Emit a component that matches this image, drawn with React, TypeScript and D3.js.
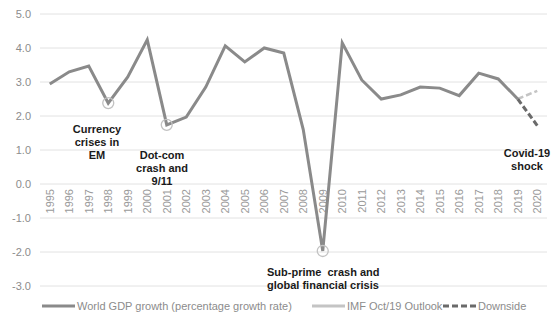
import React from 'react';
import * as d3 from 'd3';

const years = d3.range(1995, 2021).map(String);
const gdpGrowth = [2.94, 3.3, 3.47, 2.38, 3.15, 4.24, 1.74, 1.97, 2.85, 4.06, 3.59, 4.0, 3.85, 1.6, -1.97, 4.15, 3.06, 2.5, 2.62, 2.85, 2.82, 2.6, 3.26, 3.09, 2.5];
const imfOutlook = [{ year: '2019', value: 2.5 }, { year: '2020', value: 2.74 }];
const downside = [{ year: '2019', value: 2.5 }, { year: '2020', value: 1.72 }];
const yTicks = [5, 4, 3, 2, 1, 0, -1, -2, -3];
const highlighted = ['1998', '2001', '2009'];

const annotations = [
  { lines: ['Currency', 'crises in', 'EM'], x: 97, y: 133, anchor: 'middle' },
  { lines: ['Dot-com', 'crash and', '9/11'], x: 162, y: 159, anchor: 'middle' },
  { lines: ['Sub-prime  crash and', 'global financial crisis'], x: 267, y: 276, anchor: 'start' },
  { lines: ['Covid-19', 'shock'], x: 527, y: 157, anchor: 'middle' },
];

const legendItems = [
  { label: 'World GDP growth (percentage growth rate)', color: '#8a8a8a', dash: undefined, x1: 42 },
  { label: 'IMF Oct/19 Outlook', color: '#c4c4c4', dash: undefined, x1: 312 },
  { label: 'Downside', color: '#6a6a6a', dash: '6,3', x1: 443 },
];

const App = () => {
  const width = 558, height = 315;
  const left = 40, right = 547;

  const x = d3.scaleBand().domain(years).range([left, right]);
  const y = d3.scaleLinear().domain([-3, 5]).range([286, 14]);
  const cx = (yr: string) => (x(yr) as number) + x.bandwidth() / 2;

  const main = gdpGrowth.map((v, i) => ({ year: years[i], value: v }));
  const line = d3.line<{ year: string; value: number }>().x(d => cx(d.year)).y(d => y(d.value));

  const font = 'Arial, "Liberation Sans", sans-serif';

  return (
    <svg width={width} height={height} style={{ position: 'absolute', left: 0, top: 0, background: '#fff' }}>
      <g fontFamily={font}>
        {yTicks.map(t => (
          <g key={t}>
            <line x1={left} x2={right} y1={y(t)} y2={y(t)} stroke="#e2e2e2" strokeWidth={1} />
            <text x={31} y={y(t)} dy="0.35em" textAnchor="end" fontSize={11} fill="#8c8c8c">{t.toFixed(1)}</text>
          </g>
        ))}
        {years.map(yr => (
          <text key={yr} transform={`translate(${cx(yr) + 4},189) rotate(-90)`} textAnchor="end" fontSize={11} fill="#9a9a9a">{yr}</text>
        ))}
        <path d={line(imfOutlook) || ''} fill="none" stroke="#c4c4c4" strokeWidth={2.5} strokeDasharray="6,3" />
        <path d={line(downside) || ''} fill="none" stroke="#6a6a6a" strokeWidth={3} strokeDasharray="6,3" />
        <path d={line(main) || ''} fill="none" stroke="#8a8a8a" strokeWidth={3} strokeLinejoin="miter" />
        {highlighted.map(yr => {
          const v = gdpGrowth[years.indexOf(yr)];
          return <circle key={yr} cx={cx(yr)} cy={y(v)} r={5.5} fill="none" stroke="#c2c2c2" strokeWidth={1.3} />;
        })}
        {annotations.map((a, i) => (
          <text key={i} x={a.x} y={a.y} textAnchor={a.anchor as any} fontSize={11} fontWeight="bold" fill="#1a1a1a" style={{ whiteSpace: 'pre' }}>
            {a.lines.map((l, j) => (
              <tspan key={j} x={a.x} dy={j === 0 ? 0 : 13}>{l}</tspan>
            ))}
          </text>
        ))}
        {legendItems.map(item => (
          <g key={item.label}>
            <line x1={item.x1} x2={item.x1 + 33} y1={306} y2={306} stroke={item.color} strokeWidth={3} strokeDasharray={item.dash} />
            <text x={item.x1 + 35} y={306} dy="0.35em" fontSize={11} fill="#8c8c8c">{item.label}</text>
          </g>
        ))}
      </g>
    </svg>
  );
};

export default App;
